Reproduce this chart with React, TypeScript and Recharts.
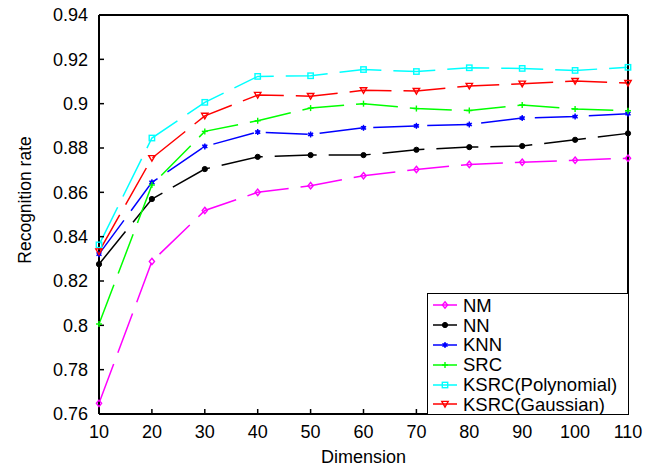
import React from "react";
import { LineChart, Line, XAxis, YAxis, Legend, Label } from "recharts";

const dimensions = [10, 20, 30, 40, 50, 60, 70, 80, 90, 100, 110];
const nmRate = [0.7648, 0.8288, 0.8518, 0.86, 0.863, 0.8675, 0.8703, 0.8726, 0.8736, 0.8745, 0.8754];
const nnRate = [0.8276, 0.857, 0.8705, 0.876, 0.8768, 0.8768, 0.8792, 0.8804, 0.8809, 0.8837, 0.8866];
const knnRate = [0.8321, 0.8645, 0.8807, 0.8872, 0.8861, 0.8891, 0.89, 0.8906, 0.8935, 0.8942, 0.8955];
const srcRate = [0.8006, 0.8633, 0.8875, 0.8923, 0.898, 0.9, 0.8978, 0.8969, 0.8994, 0.8976, 0.8968];
const polyRate = [0.8363, 0.8845, 0.9006, 0.9123, 0.9126, 0.9154, 0.9145, 0.9162, 0.9159, 0.915, 0.9164];
const gaussRate = [0.8333, 0.8754, 0.8945, 0.9039, 0.9034, 0.906, 0.9057, 0.908, 0.909, 0.9102, 0.9093];

const xTicks = [10, 20, 30, 40, 50, 60, 70, 80, 90, 100, 110];
const yTicks = [0.76, 0.78, 0.8, 0.82, 0.84, 0.86, 0.88, 0.9, 0.92, 0.94];

const series = [
  { key: "nm", name: "NM", values: nmRate, color: "#ff00ff", shape: "diamond" },
  { key: "nn", name: "NN", values: nnRate, color: "#000000", shape: "circle" },
  { key: "knn", name: "KNN", values: knnRate, color: "#0000ff", shape: "star" },
  { key: "src", name: "SRC", values: srcRate, color: "#00ff00", shape: "plus" },
  { key: "poly", name: "KSRC(Polynomial)", values: polyRate, color: "#00ffff", shape: "square" },
  { key: "gauss", name: "KSRC(Gaussian)", values: gaussRate, color: "#ff0000", shape: "triangle" },
];

const data = dimensions.map((d, i) => {
  const row: Record<string, number> = { dim: d };
  series.forEach((s) => (row[s.key] = s.values[i]));
  return row;
});

const FONT = "'Liberation Sans', Arial, Helvetica, sans-serif";

function Marker({ shape, cx, cy, color }: { shape: string; cx?: number; cy?: number; color: string }) {
  if (cx == null || cy == null) return null;
  const sw = 1.4;
  switch (shape) {
    case "diamond":
      return (
        <polygon
          points={`${cx},${cy - 3.2} ${cx + 2.6},${cy} ${cx},${cy + 3.2} ${cx - 2.6},${cy}`}
          fill="none"
          stroke={color}
          strokeWidth={sw}
        />
      );
    case "circle":
      return <circle cx={cx} cy={cy} r={2.6} fill={color} stroke={color} strokeWidth={1} />;
    case "star":
      return (
        <g stroke={color} strokeWidth={sw}>
          <line x1={cx} y1={cy - 3} x2={cx} y2={cy + 3} />
          <line x1={cx - 2.6} y1={cy - 1.5} x2={cx + 2.6} y2={cy + 1.5} />
          <line x1={cx - 2.6} y1={cy + 1.5} x2={cx + 2.6} y2={cy - 1.5} />
          <circle cx={cx} cy={cy} r={1.4} fill={color} />
        </g>
      );
    case "plus":
      return (
        <g stroke={color} strokeWidth={sw}>
          <line x1={cx - 3} y1={cy} x2={cx + 3} y2={cy} />
          <line x1={cx} y1={cy - 3} x2={cx} y2={cy + 3} />
        </g>
      );
    case "square":
      return <rect x={cx - 2.7} y={cy - 2.7} width={5.4} height={5.4} fill="none" stroke={color} strokeWidth={sw} />;
    case "triangle":
      return (
        <polygon
          points={`${cx - 3.2},${cy - 2.6} ${cx + 3.2},${cy - 2.6} ${cx},${cy + 3}`}
          fill="none"
          stroke={color}
          strokeWidth={sw}
        />
      );
    default:
      return null;
  }
}

function LegendBox() {
  return (
    <div
      style={{
        boxSizing: "border-box",
        width: "100%",
        height: "100%",
        border: "1.5px solid #000",
        background: "#fff",
        paddingTop: 1.5,
        fontFamily: FONT,
        fontSize: 18.5,
        color: "#000",
      }}
    >
      {series.map((s) => (
        <div key={s.key} style={{ display: "flex", alignItems: "center", height: 19.8 }}>
          <svg width={30} height={12} style={{ marginLeft: 5, flex: "none" }}>
            <line x1={0} y1={6} x2={24} y2={6} stroke={s.color} strokeWidth={1.5} />
            <Marker shape={s.shape} cx={12} cy={6} color={s.color} />
          </svg>
          <span style={{ lineHeight: "19px" }}>{s.name}</span>
        </div>
      ))}
    </div>
  );
}

export default function App() {
  const tickStyle = { fontSize: 18, fill: "#000", fontFamily: FONT };
  return (
    <div style={{ position: "absolute", left: 0, top: 0, background: "#fff" }}>
      <LineChart
        width={661}
        height={467}
        data={data}
        margin={{ top: 14, right: 32, bottom: 23, left: 0 }}
        style={{ fontFamily: FONT }}
      >
        <XAxis
          dataKey="dim"
          type="number"
          domain={[10, 110]}
          ticks={xTicks}
          height={30}
          tickSize={-5}
          tickMargin={16}
          tick={tickStyle}
          tickLine={{ stroke: "#000", strokeWidth: 1.5 }}
          axisLine={{ stroke: "#000", strokeWidth: 2 }}
          label={{ value: "Dimension", position: "bottom", offset: 6, fontSize: 18, fill: "#000" }}
        />
        <XAxis
          xAxisId="top"
          dataKey="dim"
          type="number"
          orientation="top"
          domain={[10, 110]}
          ticks={xTicks}
          height={1}
          tickSize={-5}
          tick={false}
          tickLine={{ stroke: "#000", strokeWidth: 1.5 }}
          axisLine={{ stroke: "#000", strokeWidth: 2 }}
        />
        <YAxis
          type="number"
          domain={[0.76, 0.94]}
          ticks={yTicks}
          width={99}
          tickSize={-5}
          tickMargin={16}
          tick={tickStyle}
          tickLine={{ stroke: "#000", strokeWidth: 1.5 }}
          axisLine={{ stroke: "#000", strokeWidth: 2 }}
          tickFormatter={(v: number) => String(Number(v.toFixed(2)))}
        >
          <Label
            content={() => (
              <text
                x={24.5}
                y={200}
                transform="rotate(-90 24.5 200)"
                textAnchor="middle"
                dominantBaseline="central"
                fontSize={17.5}
                fill="#000"
                fontFamily={FONT}
              >
                Recognition rate
              </text>
            )}
          />
        </YAxis>
        <YAxis
          yAxisId="right"
          type="number"
          orientation="right"
          domain={[0.76, 0.94]}
          ticks={yTicks}
          width={1}
          tickSize={-5}
          tick={false}
          tickLine={{ stroke: "#000", strokeWidth: 1.5 }}
          axisLine={{ stroke: "#000", strokeWidth: 2 }}
        />
        {series.map((s) => (
          <Line
            key={s.key}
            dataKey={s.key}
            name={s.name}
            stroke={s.color}
            strokeWidth={1.5}
            strokeDasharray="42 12"
            isAnimationActive={false}
            dot={(p: any) => (
              <Marker key={`${s.key}-${p.index}`} shape={s.shape} cx={p.cx} cy={p.cy} color={s.color} />
            )}
            activeDot={false}
          />
        ))}
        <Legend
          layout="vertical"
          align="center"
          verticalAlign="middle"
          content={() => <LegendBox />}
          wrapperStyle={{ left: 427, top: 293, width: 201.5, height: 122 }}
        />
      </LineChart>
    </div>
  );
}
